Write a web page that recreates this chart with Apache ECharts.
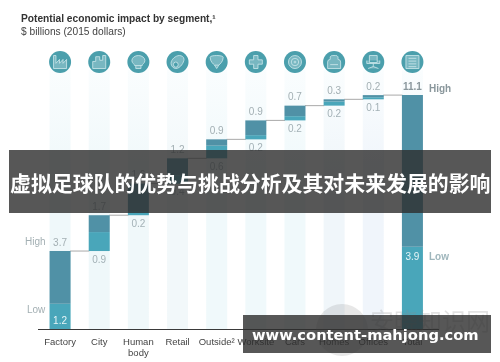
<!DOCTYPE html>
<html><head><meta charset="utf-8">
<style>html,body{margin:0;padding:0;background:#fff}#c{width:500px;height:362px}</style>
<script src="https://cdn.jsdelivr.net/npm/echarts@6/dist/echarts.min.js"></script>
</head><body><div id="c"></div>
<script>
const categories = ['Factory','City','Human\nbody','Retail','Outside²','Worksite','Cars','Homes','Offices','Total'];
const bases  = [0,3.7,5.4,6.9,8.1,9.0,9.9,10.6,10.9,0];
const lows   = [1.2,0.9,0.2,0.4,0.6,0.2,0.2,0.2,0.1,3.9];
const totals = [3.7,1.7,1.5,1.2,0.9,0.9,0.7,0.3,0.2,11.1];
const highLabels = ['3.7','1.7','1.6','1.2','0.9','0.9','0.7','0.3','0.2','11.1'];
const lowLabels  = ['1.2','0.9','0.2','0.4','0.6','0.2','0.2','0.2','0.1','3.9'];
const columnTop = 12.3, iconLevel = 12.67;
const titleText = 'Potential economic impact by segment,¹';
const subtitleText = '$ billions (2015 dollars)';
const bannerText = '虚拟足球队的优势与挑战分析及其对未来发展的影响';
const siteText = 'www.content-mahjong.com';
const watermarkText = '安晓知识网';
const tints = ['#eff8fa','#eff8fa','#f0f8fa','#f2f8fa','#f0f9fb','#f0f9fb','#f0f9fb','#f0f6fa','#f0f5fb','#eff6f9'];
const icons = [
 'M2 14V4h2v6l3-3v3l3-3v3l3-3v7z',
 'M1 14V8h3V4h4v3h3V3h3v11z',
 'M3 6a5 5 0 0 1 10 0c0 3-2 3-2 5H5c0-2-2-2-2-5zM6 11v3h4v-3',
 'M2 9c0-3 4-6 7-6 2 0 4 1 4 3s-3 7-7 7c-2 0-4-2-4-4zM6 8a2 2 0 1 0 .1 0',
 'M2 5c0-2 12-2 12 0 0 4-3 6-4 7H6C5 11 2 9 2 5zM6 12l2 3 2-3',
 'M6 2h4v4h4v4h-4v4H6v-4H2V6h4z',
 'M8 1a7 7 0 1 0 .1 0M8 4a4 4 0 1 0 .1 0M8 7a1 1 0 1 0 .1 0',
 'M3 13V8a2 2 0 0 1 2-2V4a2 2 0 0 1 2-1h2a2 2 0 0 1 2 1v2a2 2 0 0 1 2 2v5zM5 10h6',
 'M5 2h6v7H5zM3 7v3h10V7M8 10v3M4 15l4-2 4 2',
 'M3 1h10v14H3zM5 4h6M5 7h6M5 10h6M5 13h6'
];
const chart = echarts.init(document.getElementById('c'),null,{renderer:'canvas'});
const font = 'Liberation Sans, Arial, sans-serif';
chart.setOption({
 animation:false,
 title:[{left:21,top:14,text:titleText,textStyle:{fontFamily:font,fontSize:10.2,fontWeight:'bold',color:'#333'},
   subtext:subtitleText,subtextStyle:{fontFamily:font,fontSize:10.2,color:'#444'},itemGap:3,padding:0}],
 grid:{left:40.5,right:68,top:34,bottom:33},
 xAxis:{type:'category',data:categories,axisTick:{show:false},axisLine:{show:false},
   axisLabel:{interval:0,fontFamily:font,fontSize:9.5,color:'#444',margin:8,lineHeight:11}},
 yAxis:{type:'value',min:0,max:14,show:false},
 series:[
  {type:'bar',stack:'col',barWidth:21,barGap:'-100%',z:1,silent:true,
   data:tints.map(c=>({value:columnTop,itemStyle:{color:new echarts.graphic.LinearGradient(0,0,0,1,[{offset:0,color:'#fafdfe'},{offset:.4,color:c},{offset:1,color:c}])}}))},
  {type:'bar',stack:'main',barWidth:21,z:3,itemStyle:{color:'transparent'},data:bases,
   label:{show:true,position:'insideTop',distance:4,fontFamily:font,fontSize:10,color:'#a3b1b6',
     formatter:p=>(p.dataIndex===0||p.dataIndex===9)?'':lowLabels[p.dataIndex]}},
  {type:'bar',stack:'main',barWidth:21,z:3,itemStyle:{color:'#49a6ba'},
   data:lows.map((v,i)=>({value:v,label:{position:i===9?'insideTop':'insideBottom',distance:i===9?5:3}})),
   label:{show:true,fontFamily:font,fontSize:10,color:'#e6f5f7',
     formatter:p=>(p.dataIndex===0||p.dataIndex===9)?lowLabels[p.dataIndex]:''}},
  {type:'bar',stack:'main',barWidth:21,z:3,itemStyle:{color:'#5091a6'},data:totals.map((t,i)=>+(t-lows[i]).toFixed(2)),
   label:{show:true,position:'top',distance:3,fontFamily:font,fontSize:10,color:'#a3afb3',
     formatter:p=>p.dataIndex===9?'{b|'+highLabels[9]+'}':highLabels[p.dataIndex],rich:{b:{fontWeight:'bold',fontFamily:font,fontSize:10,color:'#8a979c'}}}},
  {type:'custom',z:2,silent:true,data:categories.slice(0,9).map((c,i)=>[i,bases[i]+totals[i]]),
   renderItem:(params,api)=>{
     const i=api.value(0), a=api.coord([i,api.value(1)]), b=api.coord([i+1,api.value(1)]);
     return {type:'line',shape:{x1:a[0]+10,y1:a[1],x2:b[0]-10,y2:a[1]},style:{stroke:'#a9a9a9',lineWidth:1}};
   }},
  {type:'scatter',z:4,symbol:'circle',symbolSize:22,silent:true,itemStyle:{color:'#4b9fac',opacity:1},
   data:categories.map((c,i)=>[i,iconLevel])},
  {type:'scatter',z:5,silent:true,
   data:categories.map((c,i)=>({value:[i,iconLevel],symbol:'path://'+icons[i],symbolSize:13,
     itemStyle:{color:'rgba(255,255,255,0.25)',borderColor:'#cfe8ec',borderWidth:.8,opacity:1}}))}
 ],
 graphic:[
  {type:'line',z:6,shape:{x1:38,y1:329.5,x2:439,y2:329.5},style:{stroke:'#3a3a3a',lineWidth:1}},
  {type:'text',z:6,left:25,top:237,style:{text:'High',font:'10px '+font,fill:'#a3afb3'}},
  {type:'text',z:6,left:27,top:305,style:{text:'Low',font:'10px '+font,fill:'#a3afb3'}},
  {type:'text',z:6,left:429,top:84,style:{text:'High',font:'bold 10px '+font,fill:'#8a979c'}},
  {type:'text',z:6,left:429,top:252,style:{text:'Low',font:'bold 10px '+font,fill:'#9fb6bc'}},
  {type:'circle',z:7,shape:{cx:342,cy:330,r:26},style:{fill:'rgba(120,120,120,0.18)'}},
  {type:'text',z:7,left:370,top:309,style:{text:watermarkText,font:'24px "Noto Sans CJK SC"',fill:'rgba(140,140,140,0.25)'}},
  {type:'rect',z:20,shape:{x:9,y:150,width:482,height:63},style:{fill:'rgba(45,45,45,0.8)'}},
  {type:'rect',z:20,shape:{x:243,y:315,width:248,height:38},style:{fill:'rgba(45,45,45,0.8)'}},
  {type:'text',z:21,left:10,top:173,style:{text:bannerText,font:'bold 20.9px "Noto Sans CJK SC"',fill:'#fff'}},
  {type:'text',z:21,left:252,top:329,style:{text:siteText,font:'bold 14.7px "DejaVu Sans"',fill:'#fff'}}
 ]
});
</script></body></html>
